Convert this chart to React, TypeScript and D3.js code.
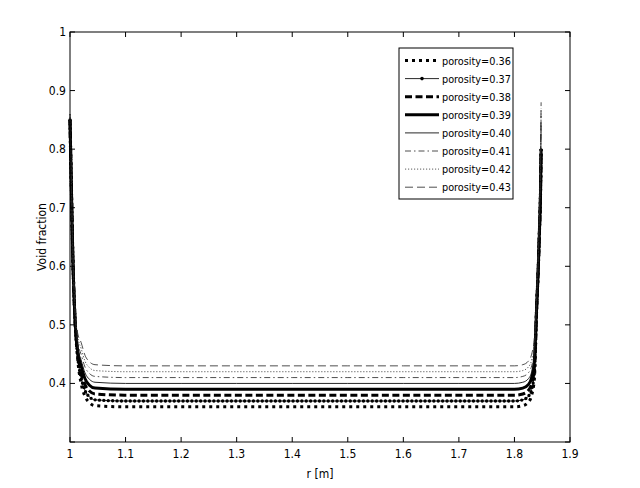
import React from 'react';
import * as d3 from 'd3';

// radial positions (m)
const radius = [
  1.0, 1.003, 1.005, 1.009, 1.014, 1.02, 1.027, 1.035, 1.045,
  1.1, 1.2, 1.3, 1.4, 1.5, 1.6, 1.7, 1.8,
  1.815, 1.825, 1.831, 1.836, 1.84, 1.843, 1.845, 1.847, 1.848,
];

const porosity36 = [0.85, 0.71, 0.62, 0.51, 0.44, 0.4, 0.378, 0.367, 0.362,
  0.36, 0.36, 0.36, 0.36, 0.36, 0.36, 0.36, 0.36,
  0.362, 0.368, 0.38, 0.41, 0.53, 0.6, 0.66, 0.73, 0.8];
const porosity37 = [0.85, 0.71, 0.62, 0.51, 0.445, 0.41, 0.388, 0.377, 0.372,
  0.37, 0.37, 0.37, 0.37, 0.37, 0.37, 0.37, 0.37,
  0.372, 0.378, 0.39, 0.42, 0.53, 0.6, 0.66, 0.73, 0.8];
const porosity38 = [0.85, 0.71, 0.62, 0.51, 0.45, 0.42, 0.398, 0.387, 0.382,
  0.38, 0.38, 0.38, 0.38, 0.38, 0.38, 0.38, 0.38,
  0.382, 0.388, 0.4, 0.43, 0.53, 0.6, 0.66, 0.73, 0.8];
const porosity39 = [0.85, 0.71, 0.62, 0.51, 0.455, 0.43, 0.408, 0.397, 0.392,
  0.39, 0.39, 0.39, 0.39, 0.39, 0.39, 0.39, 0.39,
  0.392, 0.398, 0.41, 0.44, 0.53, 0.6, 0.66, 0.73, 0.8];
const porosity40 = [0.85, 0.71, 0.62, 0.52, 0.46, 0.44, 0.418, 0.407, 0.402,
  0.4, 0.4, 0.4, 0.4, 0.4, 0.4, 0.4, 0.4,
  0.402, 0.408, 0.42, 0.45, 0.54, 0.61, 0.68, 0.76, 0.84];
const porosity41 = [0.85, 0.72, 0.63, 0.52, 0.47, 0.45, 0.428, 0.417, 0.412,
  0.41, 0.41, 0.41, 0.41, 0.41, 0.41, 0.41, 0.41,
  0.412, 0.418, 0.43, 0.46, 0.54, 0.62, 0.69, 0.77, 0.86];
const porosity42 = [0.86, 0.72, 0.63, 0.53, 0.48, 0.46, 0.438, 0.427, 0.422,
  0.42, 0.42, 0.42, 0.42, 0.42, 0.42, 0.42, 0.42,
  0.422, 0.428, 0.44, 0.47, 0.55, 0.62, 0.7, 0.78, 0.87];
const porosity43 = [0.86, 0.72, 0.64, 0.53, 0.485, 0.47, 0.448, 0.437, 0.432,
  0.43, 0.43, 0.43, 0.43, 0.43, 0.43, 0.43, 0.43,
  0.432, 0.438, 0.45, 0.48, 0.55, 0.63, 0.7, 0.79, 0.88];

const seriesLabels = [
  'porosity=0.36', 'porosity=0.37', 'porosity=0.38', 'porosity=0.39',
  'porosity=0.40', 'porosity=0.41', 'porosity=0.42', 'porosity=0.43',
];

const xTicks = [1, 1.1, 1.2, 1.3, 1.4, 1.5, 1.6, 1.7, 1.8, 1.9];
const xTickLabels = ['1', '1.1', '1.2', '1.3', '1.4', '1.5', '1.6', '1.7', '1.8', '1.9'];
const yTicks = [0.3, 0.4, 0.5, 0.6, 0.7, 0.8, 0.9, 1];
const yTickLabels = ['', '0.4', '0.5', '0.6', '0.7', '0.8', '0.9', '1'];

type Style = { w: number; dash?: string; color: string; dots?: boolean };
const styles: Style[] = [
  { w: 3, dash: '3 4', color: '#000' },
  { w: 0.9, color: '#111', dots: true },
  { w: 3, dash: '7 3.5', color: '#000' },
  { w: 3, color: '#000' },
  { w: 0.9, color: '#111' },
  { w: 0.8, dash: '6 3 1.5 3', color: '#222' },
  { w: 0.8, dash: '1.2 1.8', color: '#333' },
  { w: 0.8, dash: '8 4', color: '#222' },
];

const W = 640;
const H = 488;
const L = 70, R = 570, T = 32, B = 442;
const FONT = "'Liberation Sans Narrow', 'DejaVu Sans Condensed', 'Liberation Sans', Arial, sans-serif";

export default function App() {
  const x = d3.scaleLinear().domain([1, 1.9]).range([L, R]);
  const y = d3.scaleLinear().domain([0.3, 1]).range([B, T]);
  const allSeries = [porosity36, porosity37, porosity38, porosity39, porosity40, porosity41, porosity42, porosity43];
  const line = d3
    .line<number>()
    .x((_, i) => x(radius[i]))
    .y((d) => y(d))
    .curve(d3.curveMonotoneX);

  const legX = 399, legY = 48, legW = 114, legH = 151;
  const rowY = (i: number) => legY + 12.5 + i * 18.1;

  const renderPath = (d: string, s: Style, key: string) => (
    <g key={key}>
      <path d={d} fill="none" stroke={s.color} strokeWidth={s.w} strokeDasharray={s.dash} strokeLinejoin="round" />
      {s.dots && (
        <path d={d} fill="none" stroke="#000" strokeWidth={3.4} strokeDasharray="0 4.4" strokeLinecap="round" />
      )}
    </g>
  );

  return (
    <svg width={W} height={H} style={{ position: 'absolute', left: 0, top: 0, background: '#fff' }} fontFamily={FONT}>
      <rect x={0} y={0} width={W} height={H} fill="#fff" />
      {allSeries.map((vals, i) => renderPath(line(vals) as string, styles[i], 's' + i))}

      {/* axes box */}
      <rect x={L} y={T} width={R - L} height={B - T} fill="none" stroke="#000" strokeWidth={1} />
      {xTicks.map((t, i) => (
        <g key={'xt' + i}>
          <line x1={x(t)} x2={x(t)} y1={B} y2={B - 5} stroke="#000" />
          <line x1={x(t)} x2={x(t)} y1={T} y2={T + 5} stroke="#000" />
          <text x={x(t)} y={B + 16} fontSize={12} textAnchor="middle" fill="#000">{xTickLabels[i]}</text>
        </g>
      ))}
      {yTicks.map((t, i) => (
        <g key={'yt' + i}>
          <line x1={L} x2={L + 5} y1={y(t)} y2={y(t)} stroke="#000" />
          <line x1={R} x2={R - 5} y1={y(t)} y2={y(t)} stroke="#000" />
          <text x={L - 4} y={y(t) + 4} fontSize={12} textAnchor="end" fill="#000">{yTickLabels[i]}</text>
        </g>
      ))}
      <text x={(L + R) / 2} y={478} fontSize={12} textAnchor="middle" fill="#000">r [m]</text>
      <text transform={`translate(46,${(T + B) / 2}) rotate(-90)`} fontSize={12} textAnchor="middle" fill="#000">Void fraction</text>

      {/* legend */}
      <rect x={legX} y={legY} width={legW} height={legH} fill="#fff" stroke="#000" strokeWidth={1} />
      {seriesLabels.map((lab, i) => {
        const s = styles[i];
        const yy = rowY(i);
        return (
          <g key={'lg' + i}>
            <line x1={legX + 6} x2={legX + 40} y1={yy} y2={yy} stroke={s.color} strokeWidth={s.w} strokeDasharray={s.dash} />
            {s.dots && <circle cx={legX + 23} cy={yy} r={1.8} fill="#000" />}
            <text x={legX + 43} y={yy + 4} fontSize={10.8} fill="#000">{lab}</text>
          </g>
        );
      })}
    </svg>
  );
}
